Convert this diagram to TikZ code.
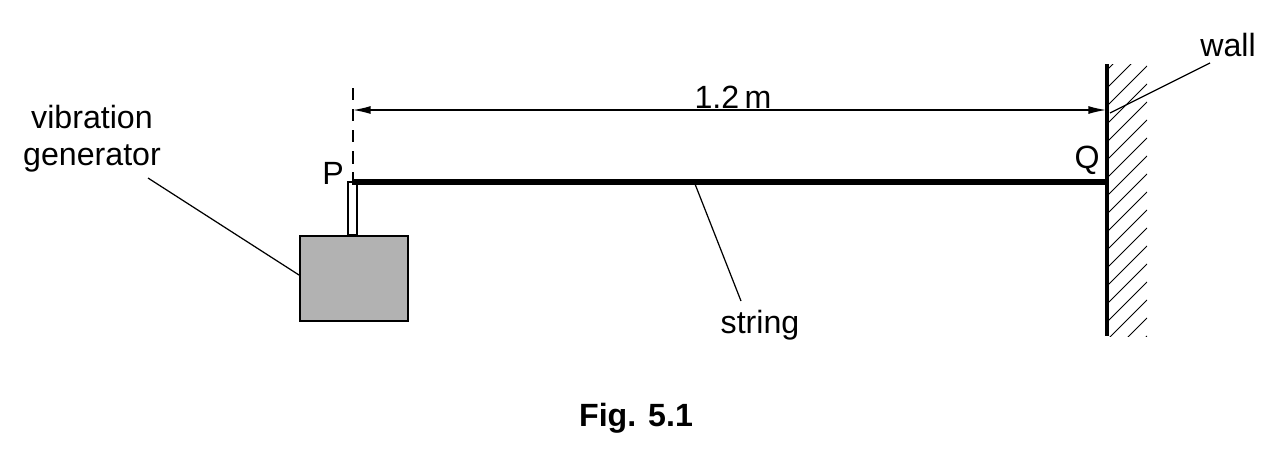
\documentclass[tikz,border=0pt]{standalone}
\usepackage{fontspec}
\setmainfont{Liberation Sans}
\usetikzlibrary{arrows.meta}
\begin{document}
\begin{tikzpicture}[x=0.02cm,y=-0.02cm,
  lbl/.style={font=\fontsize{18.3}{21}\selectfont,inner sep=0pt},
  lead/.style={line width=0.7pt},
  dim/.style={line width=0.7pt,{Latex[length=10pt,width=4.5pt]}-{Latex[length=10pt,width=4.5pt]}}]
\useasboundingbox (0,0) rectangle (1282,468);
% wall
\coordinate (w1) at (1107,64); \coordinate (w2) at (1107,336);
\begin{scope}
\clip (1108,64) rectangle (1147,336);
\foreach \y in {70,88,...,400} \draw[line width=0.5pt] (1107,\y) -- (1147,\y-40);
\end{scope}
\draw[line width=2.2pt] (w1) -- (w2);
% generator
\node[draw,line width=1.4pt,fill=black!30,minimum width=108*0.02cm,minimum height=85*0.02cm,inner sep=0pt,anchor=north west] (gen) at (299,235) {};
\draw[line width=1.2pt,fill=white] (348,235) rectangle (357,182);
% string
\coordinate (P) at (352,182); \coordinate (Q) at (1107,182);
\draw[line width=3.2pt] (P) -- (Q);
% dashed line and dimension
\coordinate (d1) at (353,88); \coordinate (d2) at (353,180);
\draw[line width=1.4pt,dash pattern=on 7pt off 5pt] (d1) -- (d2);
\coordinate (a1) at (353,110); \coordinate (a2) at (1106,110);
\draw[dim] (a1) -- (a2);
\node[lbl] (len) at (733,97) {1.2\,m};
% labels
\node[lbl] (pl) at (333,173) {P};
\node[lbl] (ql) at (1087,160) {Q};
\node[lbl] (wl) at (1228,45) {wall};
\node[lbl,align=center] (vg) at (92,139) {vibration\\generator};
\node[lbl] (sl) at (760,325) {string};
\node[font=\fontsize{18.3}{21}\selectfont\bfseries,inner sep=0pt] (fig) at (636,418) {Fig. 5.1};
% leaders
\coordinate (wt) at (1110,113);
\draw[lead] (1210,63) -- (wt);
\coordinate (gt) at (299,275);
\draw[lead] (148,178) -- (gt);
\coordinate (st) at (695,184);
\draw[lead] (741,301) -- (st);
\end{tikzpicture}
\end{document}
